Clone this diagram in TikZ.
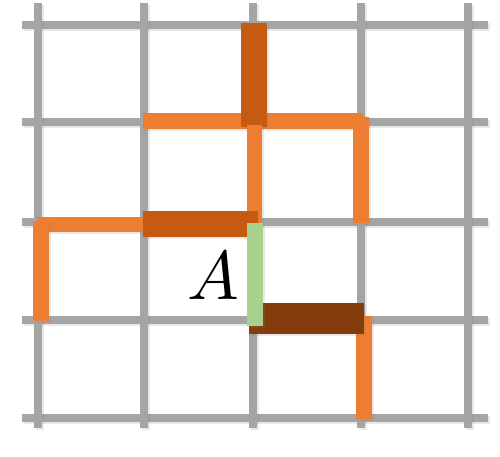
\documentclass[tikz,border=0pt]{standalone}
\usetikzlibrary{shadows}
\definecolor{gridgray}{HTML}{A5A5A5}
\definecolor{orng}{HTML}{ED7D31}
\definecolor{dorng}{HTML}{C55A11}
\definecolor{brwn}{HTML}{843C0C}
\definecolor{grn}{HTML}{A9D18E}
\tikzset{
  shd/.style={drop shadow={opacity=0.18, shadow xshift=1.5pt, shadow yshift=-2pt}},
  gridbar/.style={fill=gridgray, shd},
  seg/.style={fill=#1, shd}
}
\begin{document}
\begin{tikzpicture}[x=1pt,y=-1pt]
\useasboundingbox (0,0) rectangle (500,457);
% grid: horizontal
\foreach \yy in {25.5,122,222,320,418}
  \fill[gridbar] (22,\yy-4) rectangle (488,\yy+4);
% grid: vertical
\foreach \xx in {38,144,253,361,468}
  \fill[gridbar] (\xx-4,3) rectangle (\xx+4,428);
% path segments
\fill[seg=orng]  (143,113) rectangle (363,129);
\fill[seg=dorng] (241,23)  rectangle (267,127);
\fill[seg=orng]  (353,117) rectangle (369,223);
\fill[seg=orng]  (247,125) rectangle (262,226);
\fill[seg=orng]  (37,217)  rectangle (150,232);
\fill[seg=orng]  (33,221)  rectangle (49,321);
\fill[seg=dorng] (143,211) rectangle (258,237);
\fill[seg=orng]  (356,316) rectangle (372,419);
\fill[seg=brwn]  (249,303) rectangle (364,334);
\fill[seg=grn]   (247,223) rectangle (263,326);
\node[scale=6.9, inner sep=0pt] (lblA) at (213.5,276) {$A$};
\end{tikzpicture}
\end{document}
